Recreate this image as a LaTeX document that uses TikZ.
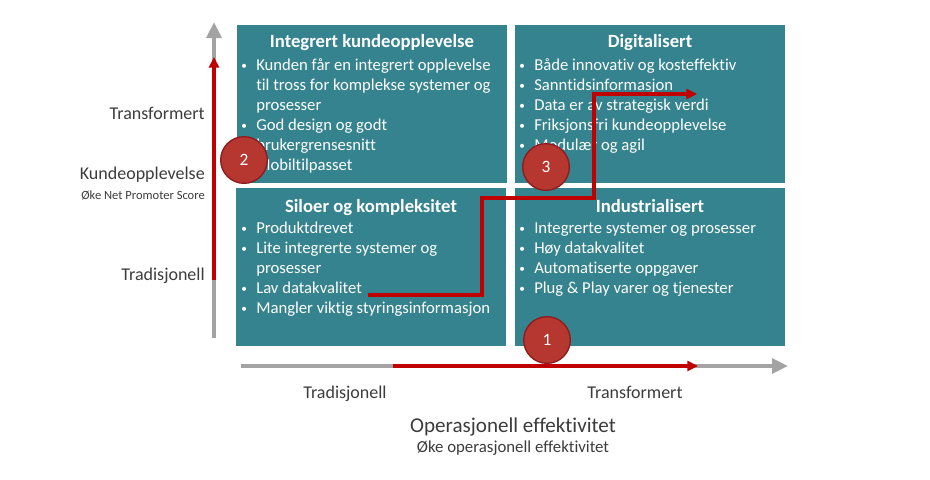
\documentclass[tikz,border=0pt]{standalone}
\usepackage{fontspec}
\setmainfont{Carlito}[Ligatures=NoCommon]
\usetikzlibrary{arrows.meta}

\definecolor{boxteal}{HTML}{34838E}
\definecolor{pathred}{HTML}{C00000}
\definecolor{axisgray}{HTML}{A3A3A3}
\definecolor{labelgray}{HTML}{3C3C3C}
\definecolor{markfill}{HTML}{B5372F}
\definecolor{markdraw}{HTML}{8E1C1C}

\newcommand{\itm}{\makebox[11.25pt][l]{\raisebox{0.5pt}{\fontsize{8.5}{8.5}\selectfont\textbullet}}}
\newcommand{\cnt}{\hspace*{11.25pt}}

\tikzset{
  quadrant/.style={fill=boxteal, draw=none, minimum width=202.5pt, minimum height=118.5pt, inner sep=0pt},
  qtitle/.style={anchor=base, text=white, font=\fontsize{14}{16}\selectfont\bfseries, inner sep=0pt},
  bodytext/.style={anchor=base west, text=white, font=\fontsize{12.5}{15}\selectfont, inner sep=0pt},
  axislabel/.style={text=labelgray, font=\fontsize{13.5}{16}\selectfont, inner sep=0pt},
  axissub/.style={text=labelgray, inner sep=0pt},
  axisline/.style={draw=axisgray, line width=3pt, -{Triangle[length=12pt, width=11pt]}},
  redline/.style={draw=pathred, line width=2.6pt, -{Triangle[length=8pt, width=7.5pt]}},
  stepmark/.style={circle, fill=markfill, draw=markdraw, line width=1pt, minimum size=35pt, inner sep=0pt, text=white, font=\fontsize{13}{15}\selectfont},
}

\begin{document}
\begin{tikzpicture}[x=0.75pt, y=-0.75pt]
    \useasboundingbox (0,0) rectangle (930,479);

    % the four quadrants
    \node[quadrant] (integrert) at (372,104) {};
    \node[quadrant] (digital) at (650,104) {};
    \node[quadrant] (siloer) at (371,267) {};
    \node[quadrant] (industri) at (650,267) {};

    \node[qtitle] (t-integrert) at (372,47) {Integrert kundeopplevelse};
    \node[qtitle] (t-digital) at (650,47) {Digitalisert};
    \node[qtitle] (t-siloer) at (371,212) {Siloer og kompleksitet};
    \node[qtitle] (t-industri) at (650,212) {Industrialisert};

    \foreach \txt [count=\i from 0] in {{\itm Kunden får en integrert opplevelse},{\cnt til tross for komplekse systemer og},{\cnt prosesser},{\itm God design og godt},{\cnt brukergrensesnitt},{\itm Mobiltilpasset}}
        \node[bodytext] (ib\i) at (241,70.5+20*\i) {\txt};
    \foreach \txt [count=\i from 0] in {{\itm Både innovativ og kosteffektiv},{\itm Sanntidsinformasjon},{\itm Data er av strategisk verdi},{\itm Friksjonsfri kundeopplevelse},{\itm Modulær og agil}}
        \node[bodytext] (db\i) at (519,70.5+20*\i) {\txt};
    \foreach \txt [count=\i from 0] in {{\itm Produktdrevet},{\itm Lite integrerte systemer og},{\cnt prosesser},{\itm Lav datakvalitet},{\itm Mangler viktig styringsinformasjon}}
        \node[bodytext] (sb\i) at (241,233+20*\i) {\txt};
    \foreach \txt [count=\i from 0] in {{\itm Integrerte systemer og prosesser},{\itm Høy datakvalitet},{\itm Automatiserte oppgaver},{\itm Plug \& Play varer og tjenester}}
        \node[bodytext] (nb\i) at (519,233+20*\i) {\txt};

    % axes
    \coordinate (yfoot) at (214,338);
    \coordinate (ytip) at (214,22);
    \coordinate (yred) at (214,280);
    \coordinate (yredtip) at (214,57);
    \coordinate (xfoot) at (241,366);
    \coordinate (xtip) at (788,366);
    \coordinate (xred) at (393,366);
    \coordinate (xredtip) at (698,366);
    \draw[axisline] (yfoot) -- (ytip);
    \draw[axisline] (xfoot) -- (xtip);
    \draw[redline, line width=3pt] (yred) -- (yredtip);
    \draw[redline, line width=3pt] (xred) -- (xredtip);

    \node[axislabel, anchor=base east] (ytrans) at (205,119) {Transformert};
    \node[axislabel, anchor=base east] (ytrad) at (205,280) {Tradisjonell};
    \node[axislabel, anchor=base east] (ykunde) at (205,179) {Kundeopplevelse};
    \node[axissub, anchor=base east, font=\fontsize{9.4}{11}\selectfont] (ynps) at (205,199) {Øke Net Promoter Score};
    \node[axislabel, anchor=base] (xtrad) at (345,398) {Tradisjonell};
    \node[axislabel, anchor=base] (xtrans) at (635,398) {Transformert};
    \node[axislabel, anchor=base, font=\fontsize{15.8}{18}\selectfont] (xops) at (513,432) {Operasjonell effektivitet};
    \node[axissub, anchor=base, font=\fontsize{12.6}{15}\selectfont] (xsub) at (513,452) {Øke operasjonell effektivitet};

    % the path through the quadrants
    \coordinate (pstart) at (368,295);
    \coordinate (k1) at (482,198);
    \coordinate (k2) at (594,94);
    \coordinate (pend) at (697,94);
    \draw[redline, line join=miter] (pstart) -| (k1) -| (k2) -- (pend);

    % step markers
    \node[stepmark] (s1) at (547,340) {1};
    \node[stepmark] (s2) at (244,160) {2};
    \node[stepmark] (s3) at (546,167) {3};
\end{tikzpicture}
\end{document}
